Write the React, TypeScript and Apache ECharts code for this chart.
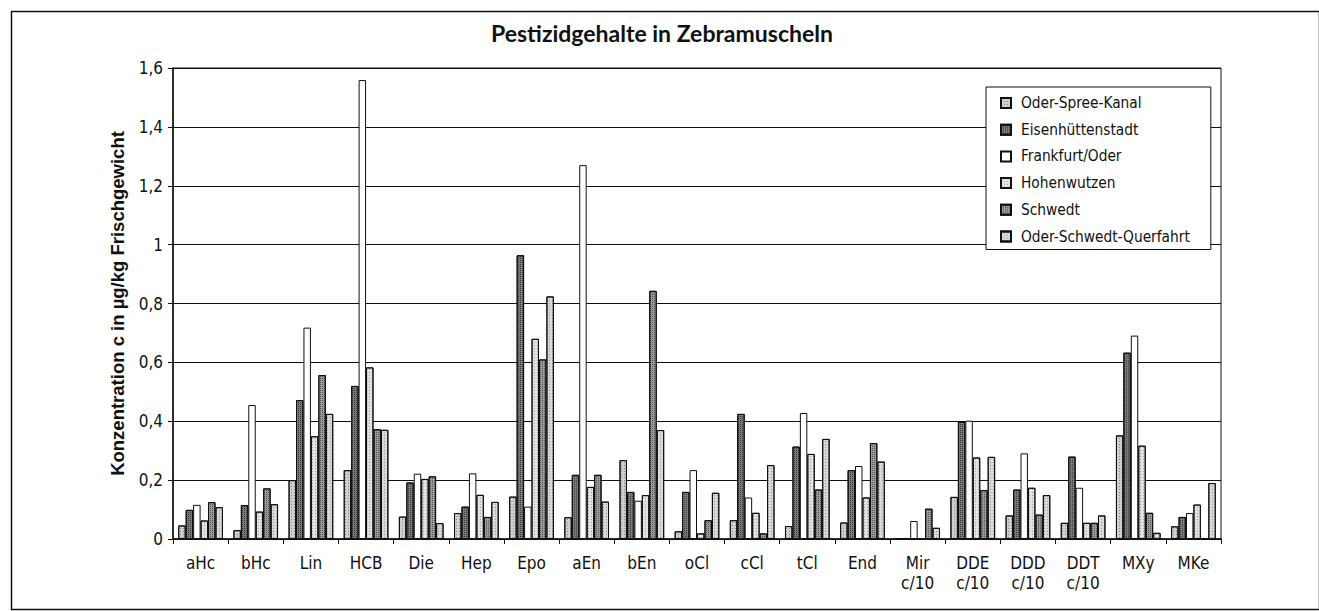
import React, { useEffect, useRef } from "react";
import * as echarts from "echarts";

const categories = [
  "aHc", "bHc", "Lin", "HCB", "Die", "Hep", "Epo", "aEn", "bEn", "oCl",
  "cCl", "tCl", "End", "Mir\nc/10", "DDE\nc/10", "DDD\nc/10", "DDT\nc/10", "MXy", "MKe",
];

const seriesNames = [
  "Oder-Spree-Kanal",
  "Eisenhüttenstadt",
  "Frankfurt/Oder",
  "Hohenwutzen",
  "Schwedt",
  "Oder-Schwedt-Querfahrt",
];

const oderSpreeKanal = [0.046, 0.03, 0.2, 0.234, 0.076, 0.088, 0.144, 0.074, 0.268, 0.026, 0.064, 0.044, 0.056, 0, 0.143, 0.08, 0.055, 0.352, 0.043];
const eisenhuettenstadt = [0.099, 0.115, 0.472, 0.52, 0.192, 0.11, 0.964, 0.218, 0.16, 0.16, 0.425, 0.314, 0.234, 0, 0.398, 0.168, 0.28, 0.633, 0.075];
const frankfurtOder = [0.116, 0.455, 0.718, 1.559, 0.222, 0.223, 0.11, 1.27, 0.13, 0.234, 0.141, 0.428, 0.248, 0.061, 0.402, 0.291, 0.174, 0.691, 0.088];
const hohenwutzen = [0.063, 0.093, 0.349, 0.583, 0.204, 0.15, 0.68, 0.177, 0.149, 0.019, 0.089, 0.289, 0.141, 0, 0.277, 0.174, 0.055, 0.317, 0.117];
const schwedt = [0.125, 0.172, 0.557, 0.373, 0.213, 0.075, 0.61, 0.218, 0.843, 0.064, 0.019, 0.168, 0.326, 0.103, 0.166, 0.083, 0.055, 0.089, 0];
const oderSchwedtQuerfahrt = [0.108, 0.118, 0.425, 0.371, 0.054, 0.126, 0.824, 0.127, 0.37, 0.157, 0.251, 0.34, 0.263, 0.038, 0.279, 0.149, 0.08, 0.021, 0.19];

const seriesValues = [oderSpreeKanal, eisenhuettenstadt, frankfurtOder, hohenwutzen, schwedt, oderSchwedtQuerfahrt];

const yTicks = { min: 0, max: 1.6, interval: 0.2 };

const fills = ["#cfcfcf", "#7a7a7a", "#ffffff", "#e2e2e2", "#9a9a9a", "#d9d9d9"];
const decalColors = [
  "rgba(0,0,0,0.35)",
  "rgba(0,0,0,0.55)",
  null,
  "rgba(0,0,0,0.3)",
  "rgba(0,0,0,0.45)",
  "rgba(0,0,0,0.3)",
];

const narrow = "'Liberation Sans Narrow', 'Arial Narrow', 'DejaVu Sans Condensed', sans-serif";

export default function App() {
  const ref = useRef<HTMLDivElement>(null);

  useEffect(() => {
    document.body.style.margin = "0";
    if (!ref.current) return;
    const chart = echarts.init(ref.current, null, { renderer: "svg" });

    const series = seriesNames.map((name, i) => {
      const itemStyle: any = {
        color: fills[i],
        borderColor: "#111",
        borderWidth: 1,
      };
      if (decalColors[i]) {
        itemStyle.decal = {
          symbol: "rect",
          symbolSize: 1,
          dashArrayX: [1, i === 1 || i === 4 ? 1 : 2],
          dashArrayY: [1, i === 1 || i === 4 ? 1 : 2],
          rotation: 0,
          color: decalColors[i],
        };
      }
      return {
        name,
        type: "bar",
        data: seriesValues[i],
        barGap: "0%",
        barCategoryGap: "19%",
        itemStyle,
        emphasis: { disabled: true },
      };
    });

    chart.setOption({
      animation: false,
      backgroundColor: "#ffffff",
      title: {
        text: "Pestizidgehalte in Zebramuscheln",
        left: 491,
        top: 21,
        padding: 0,
        textStyle: {
          fontFamily: "Lato, 'Open Sans', sans-serif",
          fontSize: 23,
          fontWeight: "bold",
          color: "#111",
        },
      },
      legend: {
        orient: "vertical",
        left: 986,
        top: 87,
        padding: [7, 21, 4, 14],
        itemGap: 8.7,
        itemWidth: 10,
        itemHeight: 10,
        icon: "rect",
        backgroundColor: "#ffffff",
        borderColor: "#111",
        borderWidth: 1,
        borderRadius: 0,
        selectedMode: false,
        textStyle: {
          fontFamily: narrow,
          fontSize: 15.3,
          lineHeight: 18,
          color: "#111",
          padding: [0, 0, 0, 5],
        },
        data: seriesNames,
      },
      grid: {
        left: 173,
        right: 98,
        top: 68,
        bottom: 72,
        show: true,
        borderColor: "#111",
        borderWidth: 1,
        backgroundColor: "transparent",
      },
      xAxis: {
        type: "category",
        data: categories,
        axisLine: { lineStyle: { color: "#111", width: 1.5 } },
        axisTick: { show: true, length: 5, lineStyle: { color: "#111" } },
        axisLabel: {
          fontFamily: narrow,
          fontSize: 17,
          lineHeight: 20,
          color: "#111",
          margin: 14,
          interval: 0,
        },
      },
      yAxis: {
        type: "value",
        min: yTicks.min,
        max: yTicks.max,
        interval: yTicks.interval,
        name: "Konzentration c in µg/kg Frischgewicht",
        nameLocation: "middle",
        nameGap: 46,
        nameTextStyle: {
          fontFamily: "'Liberation Sans', Arial, sans-serif",
          fontSize: 18.5,
          fontWeight: "bold",
          color: "#111",
        },
        axisLine: { show: true, lineStyle: { color: "#111", width: 1.5 } },
        axisTick: { show: true, length: 5, lineStyle: { color: "#111" } },
        axisLabel: {
          fontFamily: narrow,
          fontSize: 17,
          color: "#111",
          margin: 10,
          formatter: (v: number) => {
            const r = Number(v.toFixed(1));
            return String(r).replace(".", ",");
          },
        },
        splitLine: { show: true, lineStyle: { color: "#111", width: 1 } },
      },
      graphic: [
        {
          type: "rect",
          left: 9,
          top: 9,
          shape: { width: 1308, height: 598 },
          style: { fill: "none", stroke: "#111", lineWidth: 1.5 },
          silent: true,
        },
      ],
      series,
    });

    return () => chart.dispose();
  }, []);

  return <div ref={ref} style={{ width: 1319, height: 611 }} />;
}
